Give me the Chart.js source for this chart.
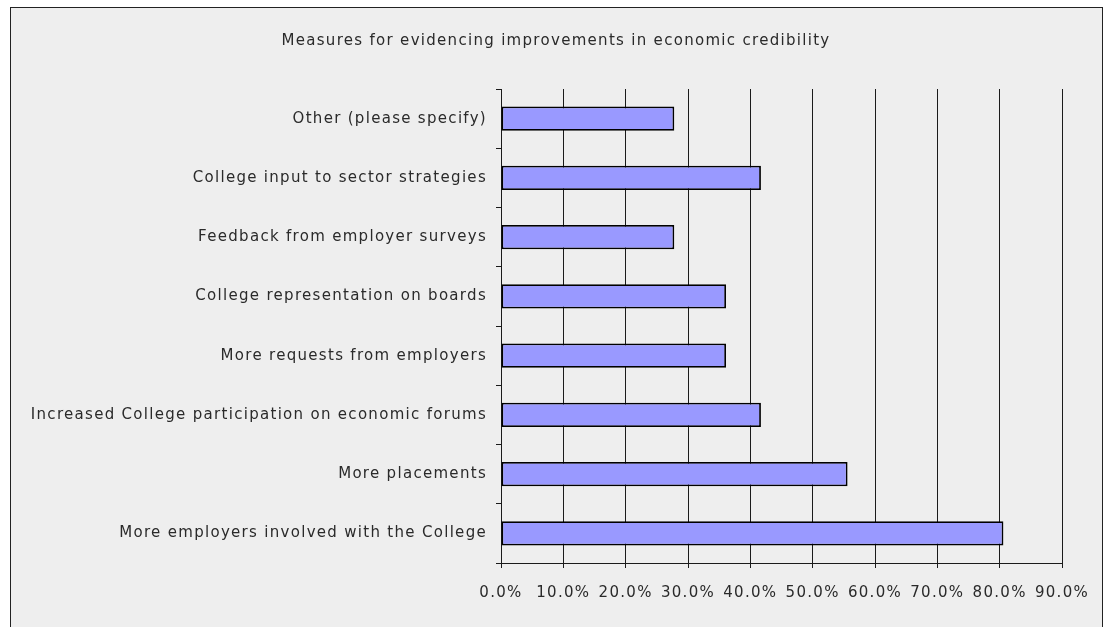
<!DOCTYPE html>
<html>
<head>
<meta charset="utf-8">
<script src="https://cdn.jsdelivr.net/npm/chart.js@4/dist/chart.umd.min.js"></script>
<style>
  html, body { margin: 0; padding: 0; background: #ffffff; }
  body { width: 1105px; height: 627px; position: relative; overflow: hidden; }
  #frame {
    position: absolute; left: 10px; top: 7px; width: 1091px; height: 640px;
    background: #eeeeee; border: 1px solid #222; border-bottom: none;
  }
  #chart { position: absolute; left: 0; top: 0; }
</style>
</head>
<body>
<div id="frame"></div>
<canvas id="chart" width="1105" height="627"></canvas>
<script>
// Survey responses, listed top to bottom as they appear on the chart
const categories = [
  'Other (please specify)',
  'College input to sector strategies',
  'Feedback from employer surveys',
  'College representation on boards',
  'More requests from employers',
  'Increased College participation on economic forums',
  'More placements',
  'More employers involved with the College'
];
const shares = [27.8, 41.7, 27.8, 36.1, 36.1, 41.7, 55.6, 80.6];
const axisMax = 90;
const axisStep = 10;
const chartTitle = 'Measures for evidencing improvements in economic credibility';

const FONT = '"DejaVu Sans", "Open Sans", sans-serif';
const TEXT = '#2a2a2a';

// Slightly tracked-out lettering for all canvas text
const wideText = {
  id: 'wideText',
  beforeInit(chart) { chart.ctx.letterSpacing = '1.3px'; },
  beforeDraw(chart) { chart.ctx.letterSpacing = '1.3px'; }
};

new Chart(document.getElementById('chart'), {
  type: 'bar',
  plugins: [wideText],
  data: {
    labels: categories,
    datasets: [{
      data: shares,
      backgroundColor: '#9999ff',
      borderColor: '#000000',
      borderWidth: 1.8,
      borderSkipped: false,
      barPercentage: 0.41,
      categoryPercentage: 1
    }]
  },
  options: {
    indexAxis: 'y',
    responsive: false,
    animation: false,
    layout: { padding: { left: 7, right: 0, top: 0, bottom: 0 } },
    plugins: {
      legend: { display: false },
      tooltip: { enabled: false },
      title: {
        display: true,
        text: chartTitle,
        color: TEXT,
        font: { family: FONT, size: 15, weight: 'normal', lineHeight: 1.2 },
        padding: { top: 32, bottom: 39 }
      }
    },
    scales: {
      x: {
        min: 0,
        max: axisMax,
        ticks: {
          stepSize: axisStep,
          color: TEXT,
          padding: 16,
          maxRotation: 0,
          font: { family: FONT, size: 15 },
          callback: v => Number(v).toFixed(1) + '%'
        },
        grid: { color: '#1a1a1a', lineWidth: 1, tickLength: 5, drawOnChartArea: true },
        border: { color: '#1a1a1a', width: 1 },
        afterFit: s => { s.height = 64; }
      },
      y: {
        ticks: {
          color: TEXT,
          padding: 9,
          autoSkip: false,
          font: { family: FONT, size: 15 }
        },
        grid: { color: '#1a1a1a', lineWidth: 1, tickLength: 5, drawOnChartArea: false, offset: true },
        border: { color: '#1a1a1a', width: 1 },
        afterFit: s => { s.width = 494; }
      },
      // empty margin strip to the right of the plot
      margin: {
        type: 'linear',
        position: 'right',
        display: true,
        ticks: { display: false },
        grid: { display: false },
        border: { display: false },
        afterFit: s => { s.width = 43; }
      }
    }
  }
});
</script>
</body>
</html>
